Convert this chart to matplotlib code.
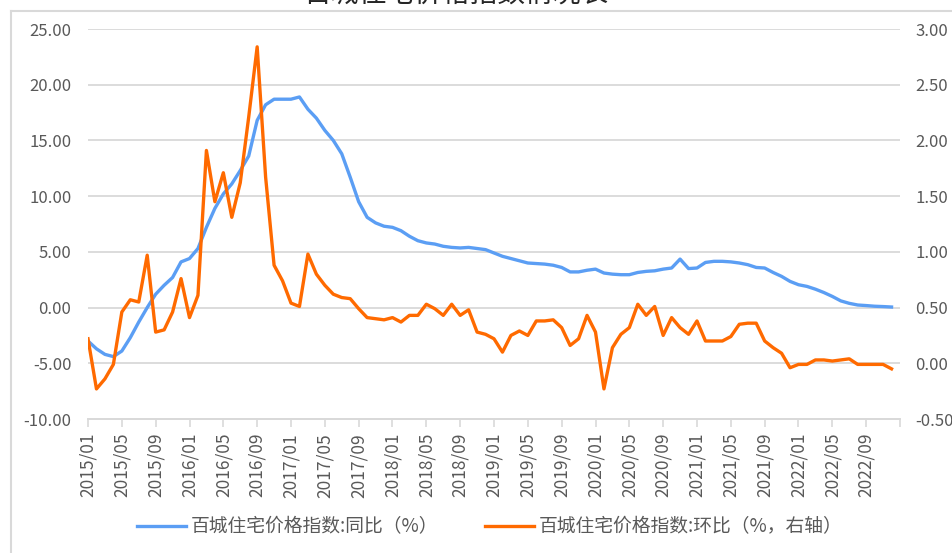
import matplotlib
matplotlib.use("Agg")
from matplotlib import pyplot
from matplotlib.lines import Line2D
from matplotlib.ticker import FormatStrFormatter
from pandas import date_range

pyplot.rcParams["font.family"] = ["Noto Sans CJK SC", "DejaVu Sans"]
pyplot.rcParams["axes.unicode_minus"] = False

# 百城住宅价格指数 2015/01 - 2022/12
months = [d.strftime("%Y/%m") for d in date_range("2015-01-01", periods=96, freq="MS")]

yoy = [
    -3.0, -3.7, -4.2, -4.4, -3.9, -2.7, -1.3, 0.0, 1.2, 2.0,
    2.7, 4.1, 4.4, 5.3, 7.2, 8.9, 10.2, 11.1, 12.3, 13.6,
    16.8, 18.2, 18.7, 18.7, 18.7, 18.9, 17.8, 17.0, 15.9, 15.0,
    13.8, 11.7, 9.5, 8.1, 7.6, 7.3, 7.2, 6.9, 6.4, 6.0,
    5.8, 5.7, 5.5, 5.4, 5.35, 5.4, 5.3, 5.2, 4.9, 4.6,
    4.4, 4.2, 4.0, 3.95, 3.9, 3.8, 3.6, 3.2, 3.2, 3.35,
    3.45, 3.1, 3.0, 2.95, 2.95, 3.15, 3.25, 3.3, 3.45, 3.55,
    4.35, 3.5, 3.55, 4.05, 4.15, 4.15, 4.1, 4.0, 3.85, 3.6,
    3.55, 3.15, 2.8, 2.35, 2.05, 1.9, 1.65, 1.35, 1.0, 0.6,
    0.38, 0.23, 0.18, 0.12, 0.09, 0.05,
]
mom = [
    0.22, -0.23, -0.14, -0.01, 0.46, 0.57, 0.55, 0.97, 0.28, 0.30,
    0.46, 0.76, 0.41, 0.61, 1.91, 1.45, 1.71, 1.31, 1.62, 2.21,
    2.84, 1.67, 0.88, 0.74, 0.54, 0.51, 0.98, 0.80, 0.70, 0.62,
    0.59, 0.58, 0.49, 0.41, 0.40, 0.39, 0.41, 0.37, 0.43, 0.43,
    0.53, 0.49, 0.43, 0.53, 0.43, 0.48, 0.28, 0.26, 0.22, 0.10,
    0.25, 0.29, 0.25, 0.38, 0.38, 0.39, 0.32, 0.16, 0.22, 0.43,
    0.28, -0.23, 0.14, 0.26, 0.32, 0.53, 0.43, 0.51, 0.25, 0.41,
    0.32, 0.26, 0.38, 0.20, 0.20, 0.20, 0.24, 0.35, 0.36, 0.36,
    0.20, 0.14, 0.09, -0.04, -0.01, -0.01, 0.03, 0.03, 0.02, 0.03,
    0.04, -0.01, -0.01, -0.01, -0.01, -0.05,
]
left_ticks = [-10, -5, 0, 5, 10, 15, 20, 25]
right_ticks = [-0.5, 0, 0.5, 1.0, 1.5, 2.0, 2.5, 3.0]

BLUE = "#5B9EF4"
ORANGE = "#FF6A00"
GRID = "#D9D9D9"
TEXT = "#595959"

fig = pyplot.figure(figsize=(9.52, 5.53), dpi=100)
ax = fig.add_axes([88 / 952, 1 - 419 / 553, 812 / 952, 390 / 553])
ax2 = ax.twinx()

x = list(range(len(months)))
l1, = ax.plot(x, yoy, color=BLUE, lw=2.4, solid_joinstyle="round",
              label="百城住宅价格指数:同比（%）")
l2, = ax2.plot(x, mom, color=ORANGE, lw=2.4, solid_joinstyle="round",
               label="百城住宅价格指数:环比（%，右轴）")

ax.set_xlim(0, 96)
ax.set_ylim(-10, 25)
ax2.set_ylim(-0.5, 3.0)
ax.set_yticks(left_ticks)
ax2.set_yticks(right_ticks)
ax.yaxis.set_major_formatter(FormatStrFormatter("%.2f"))
ax2.yaxis.set_major_formatter(FormatStrFormatter("%.2f"))

xt = list(range(0, 97, 4))
ax.set_xticks(xt)
ax.set_xticklabels([months[i] if i < len(months) else "" for i in xt],
                   rotation=90)

ax.grid(axis="y", color=GRID, lw=1.3)
ax.set_axisbelow(True)
for a in (ax, ax2):
    for s in ("top", "left", "right"):
        a.spines[s].set_visible(False)
    a.spines["bottom"].set_color(GRID)
    a.spines["bottom"].set_linewidth(1.3)
ax.tick_params(axis="x", length=6, width=1.2, color=GRID, colors=TEXT,
               labelsize=12.5, pad=4)
ax.tick_params(axis="y", length=0, colors=TEXT, labelsize=12, pad=12)
ax2.tick_params(axis="y", length=0, colors=TEXT, labelsize=12, pad=11)

fig.legend(
    handles=[l1, l2],
    loc="center",
    bbox_to_anchor=(490 / 952, 1 - 527 / 553),
    ncol=2,
    frameon=False,
    fontsize=13.5,
    labelcolor=TEXT,
    handlelength=2.6,
    handletextpad=0.25,
    columnspacing=2.5,
)

# chart frame and clipped title
fig.add_artist(Line2D([11 / 952, 1], [1 - 11 / 553, 1 - 11 / 553],
                      color=GRID, lw=1.5, transform=fig.transFigure))
fig.add_artist(Line2D([11 / 952, 11 / 952], [0, 1 - 11 / 553],
                      color=GRID, lw=1.5, transform=fig.transFigure))
fig.text(456 / 952, 1 - 2 / 553, "百城住宅价格指数情况表", ha="center",
         va="baseline", fontsize=20, color="#262626")

pyplot.savefig("out.png", dpi=100)
